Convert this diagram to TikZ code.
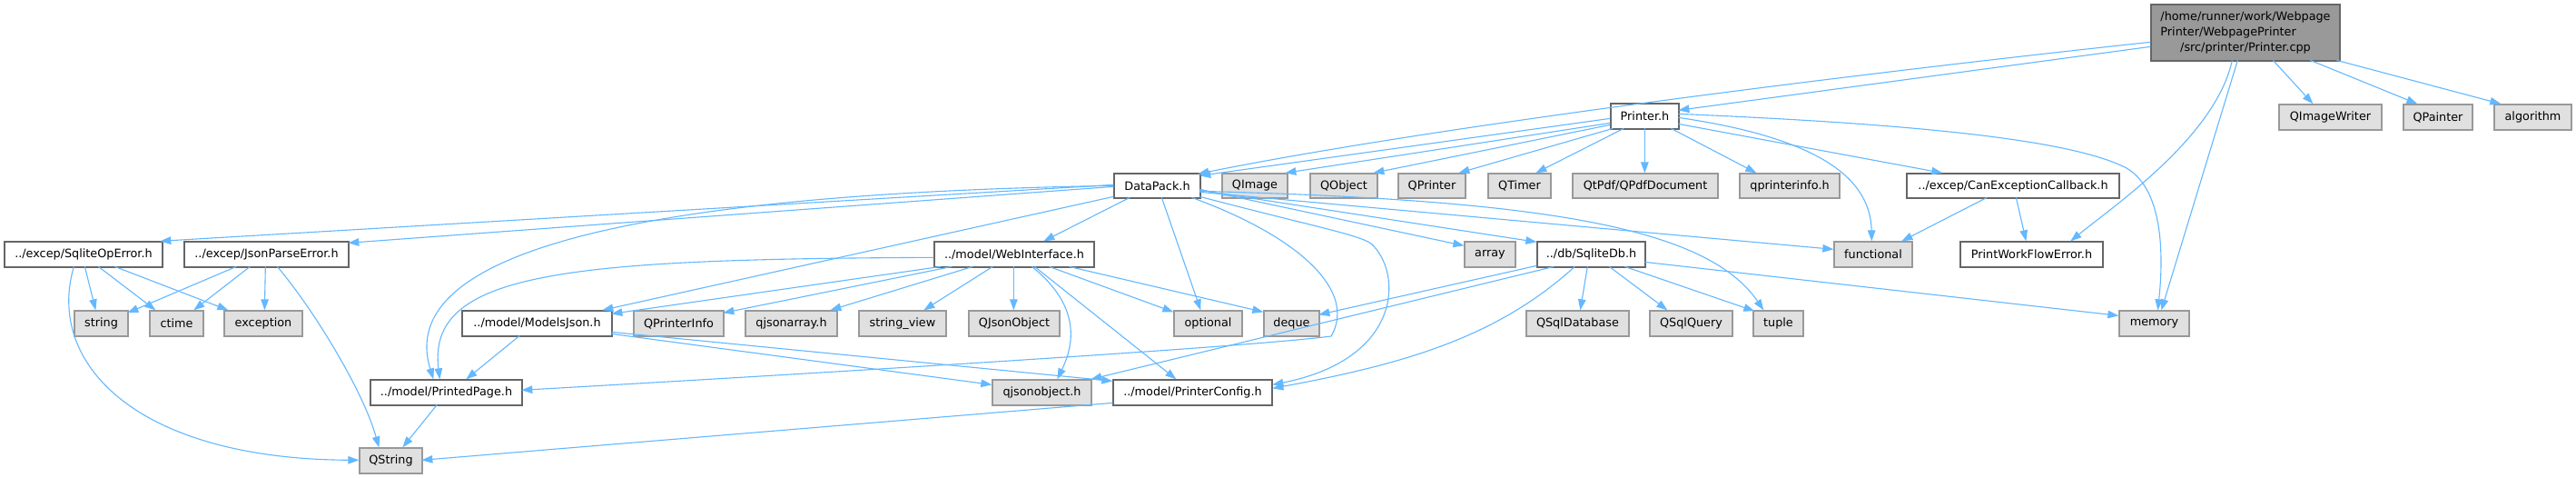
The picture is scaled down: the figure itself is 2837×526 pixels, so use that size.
\documentclass[tikz,border=0pt]{standalone}
\usepackage{fontspec}
\setmainfont{DejaVu Sans}
\usetikzlibrary{arrows.meta,calc}
\definecolor{edgec}{HTML}{63B8FF}
\definecolor{wbord}{HTML}{666666}
\definecolor{gbord}{HTML}{999999}
\definecolor{gfill}{HTML}{E0E0E0}
\definecolor{rfill}{HTML}{999999}
\newcommand\dnode[7]{\node[#1, minimum width={(#4-#3)*1bp}, minimum height={(#6-#5)*1bp}] (#2) at ({(#3+#4)/2},{(#5+#6)/2}) {#7};}
\newcommand\edgeS[6]{\draw[edge] ($(#1.north west)+(#2,#3)$) -- ($(#4.north west)+(#5,#6)$);}
\begin{document}
\begin{tikzpicture}[x=1bp,y=-1bp,font=\fontsize{12.8bp}{15bp}\selectfont,
  wbox/.style={draw=wbord,fill=white,line width=1.3bp,inner sep=0pt},
  gbox/.style={draw=gbord,fill=gfill,line width=1.3bp,inner sep=0pt},
  rbox/.style={draw=wbord,fill=rfill,line width=1.3bp,inner sep=0pt},
  edge/.style={draw=edgec,line width=1.1bp,-{Triangle[length=12bp,width=8.5bp]}}]
\useasboundingbox (0,0) rectangle (2837,526);
\fill[white] (0,0) rectangle (2837,526);
% row 0
\dnode{rbox}{cpp}{2369}{2577}{5}{67}{\fontsize{12.8bp}{17bp}\selectfont\begin{tabular}{@{}l@{}}/home/runner/work/Webpage\\Printer/WebpagePrinter\\\multicolumn{1}{@{}c@{}}{/src/printer/Printer.cpp}\end{tabular}}
% row 1
\dnode{wbox}{ph}{1774}{1849}{114}{142}{Printer.h}
\dnode{gbox}{qiw}{2510}{2623}{115}{143}{QImageWriter}
\dnode{gbox}{qpa}{2647}{2723}{115}{143}{QPainter}
\dnode{gbox}{alg}{2747}{2832}{115}{143}{algorithm}
% row 2
\dnode{wbox}{dp}{1227}{1322}{191}{218}{DataPack.h}
\dnode{gbox}{qim}{1346}{1418}{191}{218}{QImage}
\dnode{gbox}{qob}{1443}{1517}{191}{218}{QObject}
\dnode{gbox}{qpr}{1540}{1614}{191}{218}{QPrinter}
\dnode{gbox}{qti}{1639}{1708}{191}{218}{QTimer}
\dnode{gbox}{pdf}{1732}{1892}{191}{218}{QtPdf/QPdfDocument}
\dnode{gbox}{pri}{1916}{2026}{191}{218}{qprinterinfo.h}
\dnode{wbox}{cec}{2100}{2334}{191}{218}{../excep/CanExceptionCallback.h}
% row 3
\dnode{wbox}{soe}{5}{179}{266}{294}{../excep/SqliteOpError.h}
\dnode{wbox}{jpe}{203}{384}{266}{294}{../excep/JsonParseError.h}
\dnode{wbox}{wi}{1029}{1205}{266}{294}{../model/WebInterface.h}
\dnode{gbox}{arr}{1613}{1669}{266}{294}{array}
\dnode{wbox}{sdb}{1693}{1812}{266}{294}{../db/SqliteDb.h}
\dnode{gbox}{fun}{2020}{2106}{266}{294}{functional}
\dnode{wbox}{pwf}{2159}{2316}{266}{294}{PrintWorkFlowError.h}
% row 4
\dnode{gbox}{str}{82}{141}{342}{370}{string}
\dnode{gbox}{cti}{165}{224}{342}{370}{ctime}
\dnode{gbox}{exc}{247}{333}{342}{370}{exception}
\dnode{wbox}{mj}{509}{674}{342}{370}{../model/ModelsJson.h}
\dnode{gbox}{qpi}{698}{797}{342}{370}{QPrinterInfo}
\dnode{gbox}{qja}{821}{922}{342}{370}{qjsonarray.h}
\dnode{gbox}{sv}{946}{1042}{342}{370}{string\_view}
\dnode{gbox}{qjo}{1067}{1167}{342}{370}{QJsonObject}
\dnode{gbox}{opt}{1293}{1368}{342}{370}{optional}
\dnode{gbox}{deq}{1392}{1453}{342}{370}{deque}
\dnode{gbox}{qsd}{1681}{1794}{342}{370}{QSqlDatabase}
\dnode{gbox}{qsq}{1817}{1908}{342}{370}{QSqlQuery}
\dnode{gbox}{tup}{1931}{1986}{342}{370}{tuple}
\dnode{gbox}{mem}{2334}{2411}{342}{370}{memory}
% row 5
\dnode{wbox}{pp}{408}{575}{418}{446}{../model/PrintedPage.h}
\dnode{gbox}{qjs}{1093}{1202}{418}{446}{qjsonobject.h}
\dnode{wbox}{pc}{1226}{1401}{418}{446}{../model/PrinterConfig.h}
% row 6
\dnode{gbox}{qs}{396}{465}{493}{521}{QString}
% ---- edges: Printer.cpp
\edgeS{cpp}{0}{47}{ph}{75}{8}
\draw[edge] ($(cpp.north west)+(0,42)$) .. controls (2100,75) and (1600,135) .. ($(dp.north west)+(93,1)$);
\edgeS{cpp}{135}{62}{qiw}{38}{0}
\edgeS{cpp}{176}{62}{qpa}{16}{0}
\edgeS{cpp}{205}{62}{alg}{8}{0}
\draw[edge] ($(cpp.north west)+(90,62)$) .. controls (2440,150) and (2330,225) .. ($(pwf.north west)+(122,0)$);
\edgeS{cpp}{96}{62}{mem}{47}{0}
% Printer.h
\edgeS{ph}{0}{17}{dp}{95}{3}
\edgeS{ph}{0}{22}{qim}{70}{0}
\edgeS{ph}{0}{24}{qob}{70}{0}
\edgeS{ph}{3}{28}{qpr}{67}{0}
\edgeS{ph}{15}{28}{qti}{53}{0}
\edgeS{ph}{38}{28}{pdf}{80}{0}
\edgeS{ph}{67}{28}{pri}{19}{0}
\edgeS{ph}{75}{23}{cec}{40}{0}
\draw[edge] ($(ph.north west)+(75,16)$) .. controls (1990,150) and (2060,190) .. ($(fun.north west)+(42,0)$);
\draw[edge] ($(ph.north west)+(75,12)$) .. controls (2150,138) and (2290,158) .. (2342,185) .. controls (2385,210) and (2382,290) .. ($(mem.north west)+(43,0)$);
% CanExceptionCallback
\edgeS{cec}{89}{27}{fun}{75}{0}
\edgeS{cec}{121}{27}{pwf}{73}{0}
% DataPack
\edgeS{dp}{0}{13}{soe}{172}{0}
\edgeS{dp}{0}{15}{jpe}{181}{2}
\draw[edge] ($(dp.north west)+(0,14)$) .. controls (760,212) and (430,265) .. ($(pp.north west)+(70,0)$);
\edgeS{dp}{0}{26}{mj}{155}{0}
\edgeS{dp}{18}{27}{wi}{121}{0}
\edgeS{dp}{53}{27}{opt}{30}{0}
\draw[edge] ($(dp.north west)+(86,27)$) .. controls (1430,260) and (1495,320) .. (1466,370) .. controls (1380,381) and (1000,405) .. ($(pp.north west)+(167,12)$);
\draw[edge] ($(dp.north west)+(95,26)$) .. controls (1450,250) and (1495,258) .. (1510,268) .. controls (1545,300) and (1545,395) .. ($(pc.north west)+(176,6)$);
\edgeS{dp}{95}{18}{arr}{0}{5}
\edgeS{dp}{95}{19}{sdb}{0}{1}
\edgeS{dp}{95}{21}{fun}{0}{9}
\draw[edge] ($(dp.north west)+(95,20)$) .. controls (1700,220) and (1880,250) .. ($(tup.north west)+(12,0)$);
% WebInterface
\draw[edge] ($(wi.north west)+(0,18)$) .. controls (620,285) and (470,300) .. ($(pp.north west)+(77,0)$);
\edgeS{wi}{8}{28}{mj}{165}{4}
\edgeS{wi}{20}{28}{qpi}{99}{3}
\edgeS{wi}{43}{28}{qja}{94}{0}
\edgeS{wi}{65}{28}{sv}{72}{0}
\edgeS{wi}{88}{28}{qjo}{50}{0}
\draw[edge] ($(wi.north west)+(108,28)$) .. controls (1195,340) and (1180,385) .. ($(qjs.north west)+(72,0)$);
\edgeS{wi}{111}{28}{pc}{70}{0}
\edgeS{wi}{127}{28}{opt}{0}{2}
\edgeS{wi}{149}{28}{deq}{0}{2}
% ModelsJson
\edgeS{mj}{64}{28}{pp}{106}{0}
\edgeS{mj}{165}{24}{pc}{0}{2}
\edgeS{mj}{165}{26}{qjs}{0}{6}
% SqliteDb
\edgeS{sdb}{0}{27}{deq}{61}{5}
\edgeS{sdb}{19}{28}{qjs}{109}{0}
\draw[edge] ($(sdb.north west)+(42,28)$) .. controls (1650,370) and (1550,400) .. ($(pc.north west)+(176,10)$);
\edgeS{sdb}{56}{28}{qsd}{60}{0}
\edgeS{sdb}{80}{28}{qsq}{20}{0}
\edgeS{sdb}{97}{28}{tup}{2}{1}
\edgeS{sdb}{119}{23}{mem}{0}{6}
% SqliteOpError
\edgeS{soe}{89}{28}{str}{24}{0}
\edgeS{soe}{104}{28}{cti}{7}{0}
\edgeS{soe}{122}{28}{exc}{5}{0}
\draw[edge] ($(soe.north west)+(77,28)$) .. controls (50,400) and (150,505) .. ($(qs.north west)+(0,14)$);
% JsonParseError
\edgeS{jpe}{58}{28}{str}{59}{3}
\edgeS{jpe}{73}{28}{cti}{49}{0}
\edgeS{jpe}{90}{28}{exc}{45}{0}
\draw[edge] ($(jpe.north west)+(103,28)$) .. controls (345,340) and (400,430) .. ($(qs.north west)+(22,0)$);
% PrintedPage, PrinterConfig
\edgeS{pp}{74}{28}{qs}{48}{0}
\edgeS{pc}{0}{26}{qs}{69}{14}
\end{tikzpicture}
\end{document}
